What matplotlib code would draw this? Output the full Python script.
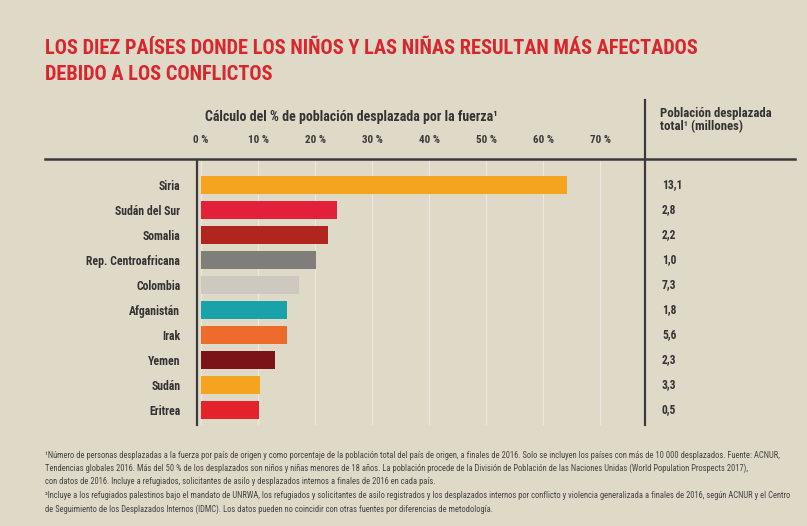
import matplotlib
matplotlib.use("Agg")
import matplotlib.pyplot as plt
import matplotlib.transforms as mtransforms
from matplotlib.lines import Line2D
from matplotlib import font_manager

# use a narrow face when one is installed, otherwise shrink the text
installed = {f.name for f in font_manager.fontManager.ttflist}
narrow = None
for cand in ["Liberation Sans Narrow", "Roboto Condensed", "DejaVu Sans Condensed",
             "Open Sans Condensed", "Noto Sans Condensed"]:
    if cand in installed:
        narrow = cand
        break
if narrow:
    plt.rcParams['font.family'] = [narrow, 'DejaVu Sans']
    k = 1.0
else:
    plt.rcParams['font.family'] = ['DejaVu Sans']
    k = 0.74

paises = ["Siria", "Sudán del Sur", "Somalia", "Rep. Centroafricana", "Colombia",
          "Afganistán", "Irak", "Yemen", "Sudán", "Eritrea"]
porcentaje = [64.2, 23.8, 22.2, 20.2, 17.2, 15.1, 15.1, 12.9, 10.3, 10.1]
desplazados = [13.1, 2.8, 2.2, 1.0, 7.3, 1.8, 5.6, 2.3, 3.3, 0.5]
colores = ["#F5A420", "#E2203A", "#B0261E", "#807E7B", "#CDC9C0",
           "#1AA2AA", "#EE6B2C", "#7A1419", "#F5A41F", "#E4222B"]
ticks = [0, 10, 20, 30, 40, 50, 60, 70]
tick_labels = ["0 %", "10 %", "20 %", "30 %", "40 %", "50 %", "60 %", "70 %"]

titulo = ["LOS DIEZ PAÍSES DONDE LOS NIÑOS Y LAS NIÑAS RESULTAN MÁS AFECTADOS",
          "DEBIDO A LOS CONFLICTOS"]
notas = [
    "¹Número de personas desplazadas a la fuerza por país de origen y como porcentaje de la población total del país de origen, a finales de 2016. Solo se incluyen los países con más de 10 000 desplazados. Fuente: ACNUR,",
    "Tendencias globales 2016. Más del 50 % de los desplazados son niños y niñas menores de 18 años. La población procede de la División de Población de las Naciones Unidas (World Population Prospects 2017),",
    "con datos de 2016. Incluye a refugiados, solicitantes de asilo y desplazados internos a finales de 2016 en cada país.",
    "²Incluye a los refugiados palestinos bajo el mandato de UNRWA, los refugiados y solicitantes de asilo registrados y los desplazados internos por conflicto y violencia generalizada a finales de 2016, según ACNUR y el Centro",
    "de Seguimiento de los Desplazados Internos (IDMC). Los datos pueden no coincidir con otras fuentes por diferencias de metodología.",
]

W, H = 807, 526
bg = "#DFD9C8"
fig = plt.figure(figsize=(W / 100, H / 100), dpi=100, facecolor=bg)

def fx(px):
    return px / W

def fy(py):
    return 1 - py / H

# main axes between the left rule and the column separator
ax = fig.add_axes([fx(197), fy(425), fx(648 - 197), (425 - 160) / H])
ax.set_facecolor(bg)
y = list(range(len(paises)))
ax.barh(y, porcentaje, height=0.7, color=colores, zorder=3)
ax.set_xlim(-0.7, 78.4)
ax.set_ylim(9.6, -1.0)

ax.set_xticks(ticks)
ax.set_xticklabels(tick_labels, fontsize=8 * k, fontweight="bold", color="#3a3a3a")
ax.xaxis.tick_top()
ax.tick_params(axis="x", length=0, pad=11)
ax.set_yticks(y)
ax.set_yticklabels(paises, fontsize=8.5 * k, fontweight="bold", color="#333333")
ax.tick_params(axis="y", length=0, pad=12)
ax.grid(axis="x", color="#ECE8DB", lw=0.9, zorder=0)
for s in ["top", "right", "bottom"]:
    ax.spines[s].set_visible(False)
ax.spines["left"].set_color("#3a3a3a")
ax.spines["left"].set_linewidth(1.6)

# right column values
tr = mtransforms.blended_transform_factory(fig.transFigure, ax.transData)
for i, v in enumerate(desplazados):
    ax.text(fx(662), i, f"{v:.1f}".replace(".", ","), transform=tr, ha="left", va="center",
            fontsize=8.3 * k, fontweight="bold", color="#333333")

# headers
fig.text(fx(205), fy(117), "Cálculo del % de población desplazada por la fuerza¹",
         fontsize=10 * k, fontweight="bold", color="#333333", va="center")
fig.text(fx(660), fy(114), "Población desplazada", fontsize=9.2 * k, fontweight="bold",
         color="#333333", va="center")
fig.text(fx(660), fy(127), "total¹ (millones)", fontsize=9.2 * k, fontweight="bold",
         color="#333333", va="center")

# rules
fig.add_artist(Line2D([fx(45), fx(795)], [fy(159), fy(159)], color="#3a3a3a", lw=1.8))
fig.add_artist(Line2D([fx(645), fx(645)], [fy(100), fy(425)], color="#3a3a3a", lw=1.6))

# title
for j, t in enumerate(titulo):
    fig.text(fx(45), fy(48 + 26 * j), t, fontsize=14.7 * k, fontweight="bold",
             color="#D8262C", va="center")

# footnotes
for j, t in enumerate(notas):
    fig.text(fx(45), fy(455 + 13.5 * j), t, fontsize=6.15 * (1.0 if narrow else 0.8),
             color="#444444", va="center")

fig.savefig("out.png", dpi=100, facecolor=bg)
